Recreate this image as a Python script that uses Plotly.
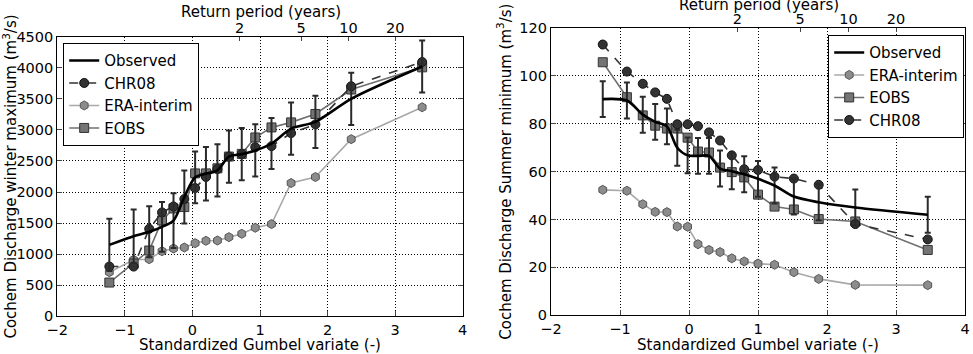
import plotly.graph_objects as go

# ---------------- data: left panel (winter maximum) ----------------
gumbel_left = [-1.23, -0.87, -0.64, -0.45, -0.28, -0.12, 0.04, 0.20, 0.37, 0.54,
               0.73, 0.93, 1.17, 1.46, 1.82, 2.35, 3.40]
obs_left = [1150, 1290, 1360, 1440, 1540, 1920, 2236, 2295, 2350, 2570,
            2610, 2670, 2780, 3020, 3130, 3500, 4020]
obs_left_err = [420, 430, 410, 400, 440, 425, 415, 430, 420, 420,
                420, 420, 410, 420, 420, 420, 420]
chr08_left = [801, 800, 1408, 1672, 1768, 1887, 2064, 2242, 2370, 2571,
              2610, 2722, 2738, 2948, 3088, 3703, 4093]
era_left = [710, 909, 919, 1048, 1091, 1107, 1177, 1215, 1220, 1274,
            1328, 1425, 1484, 2145, 2241, 2851, 3364]
eobs_left = [543, 850, 1059, 1543, 1736, 1758, 2300, 2300, 2382, 2571,
             2614, 2878, 3040, 3121, 3256, 3650, 4007]

# ---------------- data: right panel (summer minimum) ----------------
gumbel_right = [-1.25, -0.90, -0.67, -0.49, -0.32, -0.17, -0.02, 0.13, 0.29,
                0.45, 0.62, 0.80, 1.00, 1.24, 1.52, 1.88, 2.41, 3.46]
obs_right = [90.3, 89.7, 83.8, 80.8, 78.9, 70.0, 66.8, 66.6, 66.6,
             61.3, 60.2, 58.9, 57.0, 54.2, 49.6, 47.2, 45.0, 42.0]
obs_right_err = [7.5] * 18
era_right = [52.4, 52.0, 46.4, 43.2, 43.1, 37.1, 37.0, 29.7, 27.3,
             26.4, 23.8, 22.5, 21.6, 21.1, 18.0, 15.2, 12.7, 12.6]
eobs_right = [105.7, 91.1, 83.5, 79.2, 78.0, 78.0, 74.2, 68.4, 68.0,
              61.7, 59.8, 57.6, 50.4, 45.4, 44.2, 40.2, 39.2, 27.3]
chr08_right = [113.1, 101.8, 96.7, 93.1, 90.4, 79.8, 79.8, 79.0, 76.4,
               73.0, 66.8, 61.0, 60.7, 57.9, 57.1, 54.5, 38.1, 31.7]

# ---------------- return period axis ----------------
rp_pos = [0.70, 1.61, 2.31, 3.00]
rp_text = ["2", "5", "10", "20"]

FONT = "DejaVu Sans"
W, H = 973, 354

def px_x(p):
    return p / W

def px_y(p):
    return 1 - p / H

obs_style = dict(color="black", width=2.6, shape="spline", smoothing=0.8)
err_style = lambda arr: dict(type="data", array=arr, visible=True,
                             color="#2a2a2a", thickness=2, width=3)
chr_line = dict(color="#333333", width=1.6, dash="dash")
chr_marker = dict(symbol="circle", size=9, color="#333333",
                  line=dict(color="#111111", width=1))
era_line = dict(color="#a8a8a8", width=1.6)
era_marker = dict(symbol="hexagon", size=9, color="#8c8c8c",
                  line=dict(color="#555555", width=1))
eobs_line = dict(color="#707070", width=1.6)
eobs_marker = dict(symbol="square", size=9, color="#747474",
                   line=dict(color="#333333", width=1))

fig = go.Figure()

# ---- left panel ----
fig.add_trace(go.Scatter(x=gumbel_left, y=era_left, mode="lines+markers",
                         name="ERA-interim", line=era_line, marker=era_marker,
                         xaxis="x", yaxis="y", legend="legend", legendrank=3))
fig.add_trace(go.Scatter(x=gumbel_left, y=eobs_left, mode="lines+markers",
                         name="EOBS", line=eobs_line, marker=eobs_marker,
                         xaxis="x", yaxis="y", legend="legend", legendrank=4))
fig.add_trace(go.Scatter(x=gumbel_left, y=chr08_left, mode="lines+markers",
                         name="CHR08", line=chr_line, marker=chr_marker,
                         xaxis="x", yaxis="y", legend="legend", legendrank=2))
fig.add_trace(go.Scatter(x=gumbel_left, y=obs_left, mode="lines",
                         name="Observed", line=obs_style,
                         error_y=err_style(obs_left_err),
                         xaxis="x", yaxis="y", legend="legend", legendrank=1))

# ---- right panel ----
fig.add_trace(go.Scatter(x=gumbel_right, y=era_right, mode="lines+markers",
                         name="ERA-interim", line=era_line, marker=era_marker,
                         xaxis="x2", yaxis="y2", legend="legend2", legendrank=2))
fig.add_trace(go.Scatter(x=gumbel_right, y=eobs_right, mode="lines+markers",
                         name="EOBS", line=eobs_line, marker=eobs_marker,
                         xaxis="x2", yaxis="y2", legend="legend2", legendrank=3))
fig.add_trace(go.Scatter(x=gumbel_right, y=chr08_right, mode="lines+markers",
                         name="CHR08", line=chr_line, marker=chr_marker,
                         xaxis="x2", yaxis="y2", legend="legend2", legendrank=4))
fig.add_trace(go.Scatter(x=gumbel_right, y=obs_right, mode="lines",
                         name="Observed", line=obs_style,
                         error_y=err_style(obs_right_err),
                         xaxis="x2", yaxis="y2", legend="legend2", legendrank=1))

# invisible traces to activate the top (return period) axes
fig.add_trace(go.Scatter(x=[None], y=[None], xaxis="x3", yaxis="y",
                         showlegend=False, hoverinfo="skip"))
fig.add_trace(go.Scatter(x=[None], y=[None], xaxis="x4", yaxis="y2",
                         showlegend=False, hoverinfo="skip"))

tickfont = dict(family=FONT, size=14.5, color="black")
titlefont = dict(family=FONT, size=15, color="black")
grid = dict(showgrid=True, gridcolor="black", griddash="1px,2px", gridwidth=1)

common_x = dict(range=[-2, 4], dtick=1, tick0=-2, ticks="inside", ticklen=5,
                showline=True, linecolor="black", linewidth=1.2, mirror=True,
                zeroline=False, tickfont=tickfont, automargin=False,
                title=dict(text="Standardized Gumbel variate (-)",
                           font=titlefont, standoff=1), **grid)
common_y = dict(ticks="inside", ticklen=5, showline=True, linecolor="black",
                linewidth=1.2, mirror="ticks", zeroline=False,
                tickfont=tickfont, automargin=False, **grid)
top_x = dict(range=[-2, 4], side="top", tickmode="array", tickvals=rp_pos,
             ticktext=rp_text, ticks="inside", ticklen=4, showgrid=False,
             zeroline=False, showline=False, tickfont=tickfont,
             automargin=False)

L_dom = [px_x(57.3), px_x(462.7)]
R_dom = [px_x(551), px_x(965)]
L_ydom = [px_y(316.3), px_y(36.7)]
R_ydom = [px_y(315.3), px_y(28)]

fig.update_layout(
    width=W, height=H, margin=dict(l=0, r=0, t=0, b=0),
    paper_bgcolor="white", plot_bgcolor="white",
    font=dict(family=FONT, size=15, color="black"),
    xaxis=dict(domain=L_dom, anchor="y", **common_x),
    yaxis=dict(domain=L_ydom, anchor="x", range=[0, 4500], dtick=500,
               title=dict(text="Cochem Discharge winter maximum (m<sup>3</sup>/s)",
                          font=titlefont, standoff=4), **common_y),
    xaxis2=dict(domain=R_dom, anchor="y2", **common_x),
    yaxis2=dict(domain=R_ydom, anchor="x2", range=[0, 120], dtick=20,
                title=dict(text="Cochem Discharge Summer minimum (m<sup>3</sup>/s)",
                           font=titlefont, standoff=4), **common_y),
    xaxis3=dict(overlaying="x", anchor="y", **top_x),
    xaxis4=dict(overlaying="x2", anchor="y2", **top_x),
    annotations=[
        dict(text="Return period (years)", xref="paper", yref="paper",
             x=px_x(261), y=px_y(12), xanchor="center", yanchor="middle",
             showarrow=False, font=titlefont),
        dict(text="Return period (years)", xref="paper", yref="paper",
             x=px_x(759), y=px_y(5), xanchor="center", yanchor="middle",
             showarrow=False, font=titlefont),
    ],
    legend=dict(x=px_x(63), y=px_y(43), xanchor="left", yanchor="top",
                bgcolor="white", bordercolor="black", borderwidth=1.2,
                font=titlefont, tracegroupgap=0, itemwidth=30),
    legend2=dict(x=px_x(828), y=px_y(35), xanchor="left", yanchor="top",
                 bgcolor="white", bordercolor="black", borderwidth=1.2,
                 font=titlefont, tracegroupgap=0, itemwidth=30),
    showlegend=True,
)

fig.write_html("out.html")
